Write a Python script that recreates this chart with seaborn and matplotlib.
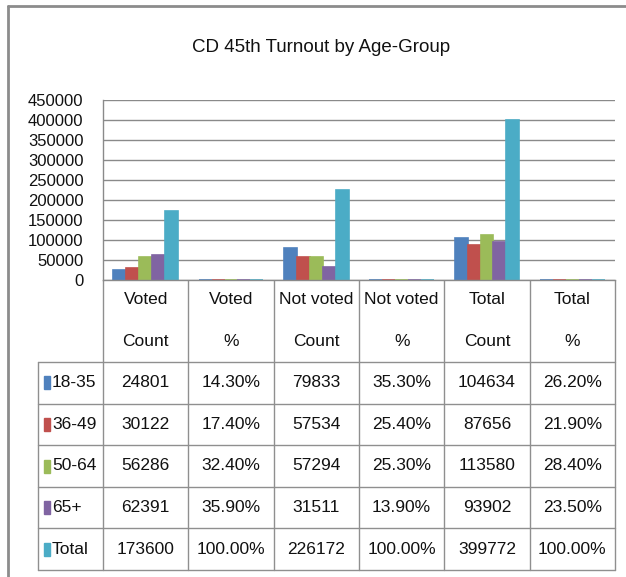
import numpy as np
import pandas as pd
import seaborn as sns
import matplotlib.pyplot as plt
from matplotlib.patches import Rectangle
from matplotlib.lines import Line2D

sns.set_theme(style="white")
plt.rcParams['font.family'] = ['Liberation Sans', 'DejaVu Sans']

# data
groups = ["18-35", "36-49", "50-64", "65+", "Total"]
measures = ["Voted\nCount", "Voted\n%", "Not voted\nCount", "Not voted\n%",
            "Total\nCount", "Total\n%"]
voted_count = [24801, 30122, 56286, 62391, 173600]
voted_pct = [14.3, 17.4, 32.4, 35.9, 100.0]
notvoted_count = [79833, 57534, 57294, 31511, 226172]
notvoted_pct = [35.3, 25.4, 25.3, 13.9, 100.0]
total_count = [104634, 87656, 113580, 93902, 399772]
total_pct = [26.2, 21.9, 28.4, 23.5, 100.0]
colors = ["#4F81BD", "#C0504D", "#9BBB59", "#8064A2", "#4BACC6"]

columns = [
    (voted_count, False), (voted_pct, True),
    (notvoted_count, False), (notvoted_pct, True),
    (total_count, False), (total_pct, True),
]

rows = []
for m, (vals, is_pct) in zip(measures, columns):
    for g, v in zip(groups, vals):
        rows.append({"measure": m, "group": g,
                     "value": v / 100 if is_pct else v})
df = pd.DataFrame(rows)

W, H = 626, 577
fig = plt.figure(figsize=(W / 100, H / 100), dpi=100)

# plot area in pixels
px_l, px_r, px_t, px_b = 103, 615, 100, 280
ax = fig.add_axes([px_l / W, 1 - px_b / H, (px_r - px_l) / W, (px_b - px_t) / H])
sns.barplot(data=df, x="measure", y="value", hue="group", palette=colors,
            saturation=1, width=0.76, ax=ax, legend=False, linewidth=0,
            errorbar=None)
for c, cont in zip(colors, ax.containers):
    for bar in cont:
        bar.set_edgecolor(c)
        bar.set_linewidth(1.2)

ax.set_xlim(-0.5, 5.5)
ax.set_ylim(0, 450000)
ticks = np.arange(0, 450001, 50000)
ax.set_yticks(ticks)
ax.set_yticklabels([str(int(t)) for t in ticks], fontsize=12, color="#111111")
ax.tick_params(axis="y", length=0, pad=14)
ax.set_xticks([])
ax.set_xlabel("")
ax.set_ylabel("")
ax.yaxis.grid(True, color="#8a8a8a", linewidth=1)
ax.set_axisbelow(True)
for s in ["top", "right"]:
    ax.spines[s].set_visible(False)
for s in ["left", "bottom"]:
    ax.spines[s].set_color("#8a8a8a")
    ax.spines[s].set_linewidth(1)

# overlay in pixel coords for the data table and chart border
tab = fig.add_axes([0, 0, 1, 1], zorder=-1)
tab.set_xlim(0, W)
tab.set_ylim(H, 0)
tab.axis("off")

line_c = "#8f8f8f"
tab.add_line(Line2D([8, 8], [6, H], color="#8c8c8c", lw=2))
tab.add_line(Line2D([8, W], [6, 6], color="#8c8c8c", lw=2))

fig.text(321 / W, 1 - 48 / H, "CD 45th Turnout by Age-Group",
         ha="center", va="center", fontsize=13.5, color="#111111")

colw = (px_r - px_l) / len(measures)
col_edges = [px_l + i * colw for i in range(len(measures) + 1)]
head_bot = 362
row_h = (570 - head_bot) / len(groups)
row_edges = [head_bot + i * row_h for i in range(len(groups) + 1)]
key_l = 38

for y in row_edges:
    tab.add_line(Line2D([key_l, px_r], [y, y], color=line_c, lw=1))
tab.add_line(Line2D([key_l, key_l], [head_bot, row_edges[-1]], color=line_c, lw=1))
for x in col_edges:
    tab.add_line(Line2D([x, x], [px_b, row_edges[-1]], color=line_c, lw=1))

fs = 12.5
for j, m in enumerate(measures):
    xc = (col_edges[j] + col_edges[j + 1]) / 2
    top, bot = m.split("\n")
    tab.text(xc, 300, top, ha="center", va="center", fontsize=fs, color="#111111")
    tab.text(xc, 341, bot, ha="center", va="center", fontsize=fs, color="#111111")
    vals, is_pct = columns[j]
    for i, v in enumerate(vals):
        yc = (row_edges[i] + row_edges[i + 1]) / 2
        s = f"{v:.2f}%" if is_pct else str(v)
        tab.text(xc, yc, s, ha="center", va="center", fontsize=fs, color="#111111")

for i, g in enumerate(groups):
    yc = (row_edges[i] + row_edges[i + 1]) / 2
    tab.add_patch(Rectangle((44, yc - 6.5), 6, 13, color=colors[i]))
    tab.text(52, yc, g, ha="left", va="center", fontsize=fs, color="#111111")

fig.savefig("out.png", dpi=100, facecolor="white")
